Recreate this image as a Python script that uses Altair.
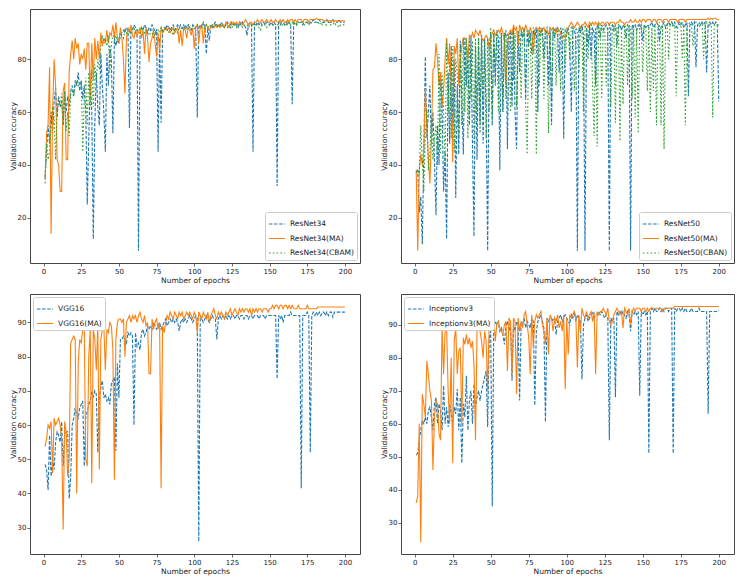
import altair as alt
import pandas as pd

epochs = list(range(1, 201))

# ---------------- ResNet34 panel ----------------
resnet34 = [
    35, 45, 55, 48, 60, 52, 64, 69, 58, 66,
    62, 64, 55, 68, 60, 66, 62, 68, 70, 66,
    72, 70, 75, 68, 72, 65, 70, 60, 25, 50,
    72, 60, 12, 55, 75, 62, 55, 82, 70, 60,
    45, 82, 70, 85, 80, 52, 88, 85, 88, 86,
    89, 90, 91, 90, 92, 91, 54, 92, 91, 93,
    92, 91, 7.5, 89, 92, 91, 93, 92, 90, 92,
    91, 93, 92, 90, 91, 45, 88, 56, 91, 92,
    91, 93, 92, 91, 92, 93, 91, 92, 93, 92,
    93, 92, 91, 93, 92, 93, 92, 91, 93, 92,
    91, 58, 92, 93, 92, 94, 93, 82, 92, 87,
    93, 92, 93, 94, 93, 92, 93, 94, 93, 92,
    93, 94, 93, 92, 94, 93, 94, 93, 92, 94,
    93, 94, 93, 92, 89, 93, 94, 93, 45, 94,
    93, 94, 93, 94, 93, 94, 93, 94, 94, 93,
    94, 93, 94, 93, 32, 94, 93, 94, 94, 93,
    94, 93, 94, 93, 63, 94, 94, 93, 94, 94,
    94, 93, 94, 94, 94, 93, 94, 94, 95, 94,
    94, 94, 95, 94, 94, 94, 94, 95, 94, 94,
    94, 95, 94, 94, 94, 95, 94, 94, 94, 94,
]
resnet34_ma = [
    35, 52, 55, 77, 14, 60, 80, 70, 42, 40,
    30, 30, 68, 71, 42, 42, 75, 82, 87, 80,
    88, 84, 86, 78, 82, 80, 84, 76, 86, 86,
    65, 86, 72, 88, 80, 87, 80, 90, 85, 88,
    86, 91, 86, 90, 89, 93, 88, 94, 88, 86,
    92, 88, 80, 67, 88, 92, 90, 93, 89, 88,
    91, 89, 90, 92, 88, 91, 82, 92, 88, 79,
    86, 88, 91, 86, 81, 90, 83, 92, 90, 91,
    92, 91, 92, 90, 91, 92, 90, 91, 92, 86,
    91, 85, 92, 91, 88, 92, 91, 89, 92, 84,
    92, 93, 86, 92, 93, 86, 92, 93, 92, 91,
    92, 93, 92, 93, 92, 93, 92, 93, 93, 92,
    94, 93, 92, 94, 93, 94, 93, 94, 93, 94,
    94, 93, 94, 95, 94, 93, 94, 94, 93, 94,
    94, 95, 94, 94, 95, 94, 94, 95, 94, 94,
    95, 94, 94, 95, 94, 94, 95, 94, 95, 94,
    94, 95, 94, 95, 95, 94, 95, 94, 95, 95,
    95, 94, 95, 95, 95, 94, 95, 95, 95, 95,
    95.5, 95, 95, 95, 95, 94.5, 94.5, 94.5, 94.5, 94.5,
    94.5, 94.5, 94.5, 94.5, 94.5, 94.5, 94.5, 94.5, 94.5, 94.5,
]
resnet34_cbam = [
    33, 48, 42, 45, 55, 62, 58, 42, 60, 65,
    62, 67, 55, 68, 53, 60, 51, 67, 68, 66,
    70, 72, 70, 71, 72, 45, 65, 73, 55, 75,
    62, 76, 62, 78, 72, 80, 76, 85, 89, 86,
    88, 85, 89, 75, 86, 89, 88, 89, 86, 88,
    90, 89, 88, 91, 90, 89, 91, 90, 91, 92,
    90, 91, 91, 90, 92, 91, 90, 91, 90, 89,
    90, 91, 88, 90, 89, 91, 90, 92, 90, 91,
    92, 91, 90, 92, 91, 89, 92, 91, 90, 92,
    91, 92, 93, 92, 91, 93, 92, 91, 92, 93,
    92, 93, 92, 93, 92, 93, 91, 93, 92, 93,
    92, 93, 92, 93, 92, 93, 93, 92, 93, 92,
    93, 92, 93, 93, 92, 93, 93, 92, 93, 93,
    93, 92, 93, 93, 93, 92, 93, 93, 93, 92,
    93, 93, 92, 91, 93, 93, 93, 92, 93, 93,
    93, 93, 93, 92, 93, 93, 94, 93, 93, 93,
    93, 94, 93, 93, 94, 93, 94, 93, 94, 94,
    94, 94, 93, 94, 94, 94, 93, 94, 94, 94,
    94, 94, 93, 94, 93, 94, 93, 93, 94, 93,
    93, 93, 94, 93, 93, 92, 93, 93, 93, 93,
]

# ---------------- ResNet50 panel ----------------
resnet50 = [
    38, 38, 22, 28, 10, 45, 81, 50, 60, 70,
    48, 60, 42, 21, 55, 40, 75, 62, 30, 45,
    12, 75, 48, 85, 55, 80, 27.5, 70, 44, 87,
    65, 44, 88, 70, 82, 55, 89, 48, 13, 85,
    42, 88, 55, 89, 48, 88, 60, 7.5, 85, 90,
    55, 90, 70, 91, 88, 38, 90, 60, 88, 91,
    46, 89, 90, 62, 92, 60, 46, 90, 75, 91,
    88, 92, 65, 91, 85, 90, 82, 91, 88, 92,
    60, 91, 89, 92, 80, 91, 90, 70, 92, 55,
    91, 88, 92, 90, 75, 92, 89, 50, 91, 90,
    92, 85, 60, 92, 91, 88, 7.5, 92, 90, 93,
    89, 7.5, 92, 85, 93, 80, 92, 90, 70, 93,
    92, 88, 93, 91, 92, 93, 91, 7.5, 92, 93,
    91, 93, 85, 92, 93, 91, 93, 92, 88, 93,
    92, 7.5, 93, 92, 93, 91, 93, 92, 93, 87,
    93, 92, 93, 92, 93, 94, 92, 93, 94, 93,
    87, 92, 93, 94, 92, 93, 94, 93, 94, 93,
    94, 92, 93, 94, 93, 94, 92, 93, 94, 66,
    93, 94, 93, 94, 77, 93, 94, 93, 94, 93,
    94, 75, 93, 94, 93, 94, 93, 94, 93, 64,
]
resnet50_ma = [
    38, 7.5, 38, 44, 40, 45, 69, 55, 42, 33,
    50, 76, 77, 86, 80, 70, 75, 62, 68, 80,
    88, 78, 86, 70, 41, 85, 82, 88, 70, 80,
    85, 88, 88, 87, 80, 89, 88, 90, 88, 91,
    90, 89, 91, 88, 87, 88, 89, 88, 84, 87,
    90, 91, 89, 90, 91, 90, 92, 90, 87, 70,
    85, 90, 91, 89, 93, 91, 92, 85, 93, 91,
    92, 90, 93, 91, 89, 92, 90, 82, 91, 92,
    91, 92, 90, 91, 92, 90, 91, 89, 92, 91,
    92, 91, 90, 92, 91, 90, 88, 89, 88, 90,
    92, 93, 94, 93, 92, 93, 94, 93, 92, 93,
    93, 94, 93, 92, 94, 93, 94, 93, 94, 93,
    94, 93, 94, 94, 93, 94, 94, 93, 94, 94,
    94, 93, 94, 94, 95, 94, 94, 93, 94, 94,
    94, 95, 94, 94, 95, 94, 94, 95, 94, 95,
    95, 94, 95, 95, 95, 94, 95, 95, 94, 95,
    95, 95, 94, 95, 95, 95, 94, 95, 95, 95,
    95, 95, 94, 95, 95, 95, 95, 94, 95, 95,
    95, 95, 95, 95, 95, 95, 95, 95, 95, 95,
    95, 95, 95.5, 95, 95.5, 95, 95.5, 95.5, 95, 95,
]
resnet50_cbam = [
    37, 38, 36, 55, 42, 30, 52, 61, 38, 45,
    58, 42, 50, 55, 40, 82, 44, 75, 60, 40,
    87, 60, 80, 50, 85, 45, 80, 75, 50, 85,
    55, 88, 60, 88, 50, 88, 65, 87, 48, 88,
    60, 88, 52, 89, 64, 87, 50, 88, 60, 92,
    58, 91, 75, 90, 60, 88, 89, 60, 90, 65,
    90, 88, 60, 91, 72, 90, 62, 91, 88, 65,
    90, 91, 62, 44, 91, 89, 65, 92, 90, 44,
    91, 70, 92, 90, 65, 91, 92, 52, 90, 65,
    92, 91, 70, 92, 90, 68, 92, 91, 75, 92,
    90, 80, 92, 91, 68, 92, 90, 75, 92, 91,
    60, 93, 91, 80, 92, 93, 70, 51, 92, 47,
    93, 92, 65, 93, 91, 70, 92, 93, 62, 92,
    93, 56, 92, 93, 49, 92, 63, 93, 92, 70,
    93, 92, 65, 93, 58, 92, 52, 93, 92, 75,
    93, 92, 68, 93, 60, 92, 68, 93, 55, 92,
    94, 55, 93, 46, 92, 93, 80, 93, 94, 92,
    93, 66, 92, 93, 94, 80, 93, 55, 92, 93,
    94, 93, 85, 92, 94, 93, 92, 93, 94, 80,
    93, 94, 92, 93, 93, 58, 93, 94, 93, 93,
]

# ---------------- VGG16 panel ----------------
vgg16 = [
    48.5, 47, 41, 57, 45, 50, 47, 55, 58, 57,
    55, 61, 48, 57, 58, 58, 38.5, 45, 60, 62,
    65, 63, 62, 65, 66, 67, 48, 62, 64, 66,
    67, 70, 68, 70, 69, 52, 68, 71, 73, 68,
    69, 67, 68, 66, 72, 73, 74, 52.5, 78, 68,
    85, 85, 86, 85, 84, 87, 86, 87, 86, 60,
    87, 83, 84, 82, 87, 88, 86, 87, 89, 88,
    89, 88, 90, 89, 88, 89, 90, 88, 89, 90,
    91, 89, 90, 91, 90, 91, 90, 91, 90, 87.5,
    90, 91, 90, 91, 90, 91, 92, 91, 90, 91,
    92, 91, 26, 92, 91, 90, 91, 92, 91, 90,
    91, 92, 91, 91, 85, 91, 92, 91, 92, 91,
    92, 91, 92, 91, 92, 92, 91, 92, 92, 91,
    92, 92, 91, 92, 92, 91, 92, 92, 91, 92,
    92, 92, 91, 92, 92, 92, 91, 92, 92, 92,
    92, 92, 92, 92, 73.5, 92, 91, 92, 90, 92,
    92, 92, 92, 93, 92, 92, 92, 92, 92, 92,
    41.5, 92, 92, 92, 93, 92, 52, 92, 93, 92,
    93, 92, 93, 92, 93, 93, 92, 93, 92, 93,
    93, 91.5, 93, 93, 93, 93, 93, 93, 93, 93,
]
vgg16_ma = [
    53.7, 56, 60, 59, 61, 46, 62, 60, 61, 62,
    60, 56, 29.5, 61, 58, 45, 50, 84, 85, 86,
    85, 40, 78, 85, 84, 88, 89, 50, 48, 80,
    88, 43, 88, 85, 76, 89, 47, 85, 88, 89,
    76, 88, 87, 90, 89, 82, 44, 85, 90, 91,
    91, 90, 91, 80, 90, 91, 92, 90, 92, 91,
    92, 90, 92, 93, 91, 90, 92, 89, 90, 75,
    75, 91, 88, 90, 91, 88, 90, 41.5, 89, 87,
    90, 92, 91, 93, 92, 91, 93, 92, 91, 93,
    92, 93, 91, 92, 93, 92, 93, 92, 91, 93,
    92, 87, 93, 92, 91, 93, 92, 91, 93, 90,
    92, 93, 94, 92, 91, 93, 92, 93, 92, 91,
    93, 92, 93, 94, 92, 93, 94, 93, 92, 94,
    93, 94, 93, 94, 94, 93, 94, 92, 94, 93,
    94, 93, 94, 94, 93, 94, 94, 94, 93, 94,
    94, 95, 94, 95, 95, 94, 95, 95, 94, 95,
    95, 94, 95, 94, 95, 94, 94, 94, 95, 94,
    94, 94, 94, 94, 95, 94, 94, 94, 94, 94,
    94, 94.5, 94.5, 94.5, 94.5, 94.5, 94.5, 94.5, 94.5, 94.5,
    94.5, 94.5, 94.5, 94.5, 94.5, 94.5, 94.5, 94.5, 94.5, 94.5,
]

# ---------------- Inceptionv3 panel ----------------
inception = [
    50.5, 51, 55, 58, 61, 60, 62, 60, 64, 65,
    62, 58, 66, 68, 60, 66, 64, 58, 71.5, 60,
    65, 59, 66, 63, 60, 65, 63, 70.5, 58, 68,
    48, 66, 62, 74.5, 58, 67, 70, 60, 72, 65,
    68, 70, 67, 70, 72, 74, 76, 59, 86, 88,
    35, 89, 91, 90, 91, 88, 89, 87, 84, 90,
    91, 88, 91, 73, 90, 88, 91, 90, 67, 91,
    90, 92, 89, 91, 90, 89, 92, 91, 65.5, 88,
    91, 92, 93, 91, 89, 60.5, 92, 91, 92, 92,
    91, 92, 87, 91, 92, 93, 91, 92, 93, 92,
    91, 90, 93, 92, 94, 91, 93, 92, 91, 73.5,
    90, 92, 93, 91, 92, 93, 94, 92, 93, 93,
    94, 93, 94, 93, 92, 93, 92, 55, 92, 91,
    92, 68, 94, 93, 94, 93, 94, 93, 92, 94,
    93, 88, 94, 93, 94, 93, 94, 68.5, 94, 93,
    94, 93, 94, 51, 94, 95, 94, 95, 94, 94,
    95, 94, 95, 94, 95, 95, 94, 95, 95, 51,
    95, 94, 95, 95, 94, 95, 94, 95, 94, 94,
    94, 95, 94, 94, 94, 94, 95, 94, 94, 94,
    94, 94, 63, 94, 94, 94, 94, 94, 94, 94.5,
]
inception_ma = [
    36, 38, 60, 24, 69, 66, 62, 79, 75, 70,
    67, 46, 62, 67, 66, 57, 55, 89.5, 75, 88,
    89, 70, 60, 80, 48, 85, 89, 75, 82, 83,
    60, 86, 84, 87, 84, 86, 83, 85, 78, 55,
    88, 90, 88, 85, 80, 88, 85, 70, 90, 91,
    94, 93, 85, 90, 91, 89, 88, 87, 90, 91,
    76, 92, 91, 75, 92, 91, 69, 92, 88, 91,
    89, 93, 94, 90, 86, 75, 93, 83, 91, 93,
    92, 93, 94, 90, 88, 84, 92, 81, 93, 92,
    88, 92, 91, 93, 89, 91, 88, 93, 70.5, 92,
    81, 93, 92, 93, 94, 92, 77, 93, 88, 95,
    93, 92, 94, 92, 93, 94, 91, 94, 75, 94,
    93, 94, 94, 95, 94, 93, 95, 91, 90, 91,
    93, 94, 95, 94, 93, 94, 89, 95, 94, 93,
    95, 90, 94, 95, 94, 95, 95, 95, 94, 95,
    95, 94, 95, 94, 95, 95, 95, 95, 95, 95,
    95, 95, 94, 95, 95, 95, 95, 95, 95, 95,
    95.5, 95.5, 95.5, 95.5, 95.5, 95.5, 95.5, 95.5, 95.5, 95.5,
    95.5, 95.5, 95.5, 95.5, 95.5, 95.5, 95.5, 95.5, 95.5, 95.5,
    95.5, 95.5, 95.5, 95.5, 95.5, 95.5, 95.5, 95.5, 95.5, 95.5,
]

x_ticks = [0, 25, 50, 75, 100, 125, 150, 175, 200]
top_y_ticks = [20, 40, 60, 80]
bottom_y_ticks = [30, 40, 50, 60, 70, 80, 90]

BLUE, ORANGE, GREEN = "#1f77b4", "#ff7f0e", "#2ca02c"
DASH_BLUE = [3.5, 1.6]
DASH_SOLID = [1, 0]
DASH_GREEN = [1.6, 2.2]
FONT = "DejaVu Sans"


def panel(names, series, colors, dashes, widths, ydomain, yticks,
          legend_orient, w, h):
    rows = []
    for name, vals in zip(names, series):
        for e, v in zip(epochs, vals):
            rows.append({"epoch": e, "acc": v, "model": name})
    df = pd.DataFrame(rows)
    leg = dict(
        title=None, orient=legend_orient, offset=3, symbolType="stroke",
        symbolSize=260, labelFont=FONT, labelFontSize=7.5, labelColor="#222",
        fillColor="white", strokeColor="#cccccc", cornerRadius=2,
        padding=3, rowPadding=1.5, symbolOffset=0, labelOffset=4,
    )
    return alt.Chart(df).mark_line(clip=True).encode(
        x=alt.X("epoch:Q",
                scale=alt.Scale(domain=[-9, 210], nice=False, zero=False),
                axis=alt.Axis(values=x_ticks, title="Number of epochs")),
        y=alt.Y("acc:Q",
                scale=alt.Scale(domain=ydomain, nice=False, zero=False),
                axis=alt.Axis(values=yticks, title="Validation ccuracy")),
        color=alt.Color("model:N", sort=names,
                        scale=alt.Scale(domain=names, range=colors),
                        legend=alt.Legend(**leg)),
        strokeDash=alt.StrokeDash("model:N", sort=names,
                                  scale=alt.Scale(domain=names, range=dashes),
                                  legend=alt.Legend(**leg)),
        strokeWidth=alt.StrokeWidth("model:N", sort=names,
                                    scale=alt.Scale(domain=names, range=widths),
                                    legend=alt.Legend(**leg)),
        order=alt.Order("epoch:Q"),
    ).properties(width=w, height=h)


W1, W2, H1, H2 = 330, 333, 254, 260

tl = panel(["ResNet34", "ResNet34(MA)", "ResNet34(CBAM)"],
           [resnet34, resnet34_ma, resnet34_cbam],
           [BLUE, ORANGE, GREEN], [DASH_BLUE, DASH_SOLID, DASH_GREEN],
           [1.1, 1.1, 2.2], [2.9, 99], top_y_ticks, "bottom-right", W1, H1)
tr = panel(["ResNet50", "ResNet50(MA)", "ResNet50(CBAN)"],
           [resnet50, resnet50_ma, resnet50_cbam],
           [BLUE, ORANGE, GREEN], [DASH_BLUE, DASH_SOLID, DASH_GREEN],
           [1.1, 1.1, 2.2], [2.9, 99], top_y_ticks, "bottom-right", W2, H1)
bl = panel(["VGG16", "VGG16(MA)"], [vgg16, vgg16_ma],
           [BLUE, ORANGE], [DASH_BLUE, DASH_SOLID], [1.1, 1.1],
           [22.3, 98.3], bottom_y_ticks, "top-left", W1, H2)
br = panel(["Inceptionv3", "Inceptionv3(MA)"], [inception, inception_ma],
           [BLUE, ORANGE], [DASH_BLUE, DASH_SOLID], [1.1, 1.1],
           [20.5, 99.3], bottom_y_ticks, "top-left", W2, H2)

chart = alt.concat(
    tl, tr, bl, br, columns=2,
    spacing=alt.RowColnumber(row=31, column=41),
    bounds="flush", align="each",
).resolve_scale(
    color="independent", strokeDash="independent", strokeWidth="independent",
    x="independent", y="independent",
).resolve_legend(
    color="independent", strokeDash="independent", strokeWidth="independent",
).properties(
    padding={"left": 0, "top": 0, "right": 0, "bottom": 0}
).configure_view(
    stroke="#444444", strokeWidth=1
).configure_axis(
    domain=False, grid=False, labelFont=FONT, titleFont=FONT,
    labelFontSize=7, titleFontSize=7.5, titleFontWeight="normal",
    labelColor="#222", titleColor="#222", tickColor="#444",
    tickSize=3, tickWidth=0.8, labelPadding=1.5, titlePadding=2,
).configure_axisY(titlePadding=0, labelPadding=1)

chart.save("out.html", embed_options={"renderer": "svg", "actions": False})
